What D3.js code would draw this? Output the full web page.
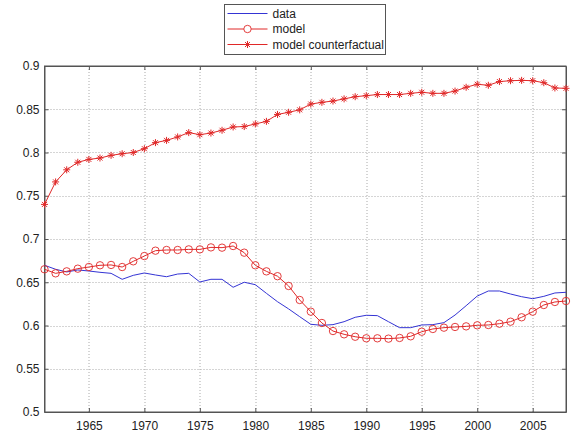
<!DOCTYPE html>
<html>
<head>
<meta charset="utf-8">
<script src="https://cdn.jsdelivr.net/npm/d3@7"></script>
<style>
  body { margin: 0; background: #fff; }
  text { font-family: "Liberation Sans", Arial, sans-serif; font-size: 12px; fill: #222; }
</style>
</head>
<body>
<div id="chart"></div>
<script>
let years = d3.range(1961, 2009)

let dataValues = [
  0.6696, 0.665, 0.6619, 0.6642, 0.663, 0.6615, 0.6603, 0.6534, 0.658, 0.6607,
  0.6584, 0.6564, 0.6595, 0.6603, 0.6503, 0.6534, 0.6534, 0.6442, 0.65, 0.6472,
  0.6372, 0.6275, 0.6192, 0.6102, 0.6014, 0.6002, 0.601, 0.6044, 0.6095, 0.6118,
  0.6114, 0.6044, 0.5975, 0.5975, 0.6006, 0.601, 0.6033, 0.6121, 0.6229, 0.634,
  0.6399, 0.6399, 0.6364, 0.6333, 0.631, 0.6337, 0.6376, 0.6384
]

let modelValues = [
  0.665, 0.6603, 0.6626, 0.6657, 0.6676, 0.6696, 0.67, 0.6676, 0.6742, 0.6803,
  0.6865, 0.6873, 0.6873, 0.688, 0.688, 0.6903, 0.69, 0.6919, 0.6842, 0.6696,
  0.6626, 0.657, 0.6457, 0.6295, 0.616, 0.6029, 0.5936, 0.5898, 0.587, 0.5852,
  0.5852, 0.5848, 0.5856, 0.5875, 0.5928, 0.596, 0.5975, 0.5983, 0.599, 0.6002,
  0.6006, 0.6021, 0.6044, 0.6095, 0.616, 0.6237, 0.6272, 0.6283
]

let counterValues = [
  0.74, 0.766, 0.78, 0.7887, 0.792, 0.7936, 0.7967, 0.7986, 0.8, 0.8044,
  0.8114, 0.814, 0.818, 0.823, 0.8206, 0.8225, 0.8257, 0.8295, 0.83, 0.833,
  0.836, 0.844, 0.8465, 0.8493, 0.856, 0.858, 0.8595, 0.862, 0.8645, 0.8657,
  0.867, 0.867, 0.867, 0.8684, 0.8696, 0.8684, 0.8684, 0.871, 0.8754, 0.8789,
  0.8777, 0.882, 0.883, 0.8834, 0.883, 0.8807, 0.8746, 0.8742
]

let xTicks = [1965, 1970, 1975, 1980, 1985, 1990, 1995, 2000, 2005]
let yTicks = [0.5, 0.55, 0.6, 0.65, 0.7, 0.75, 0.8, 0.85, 0.9]

let seriesNames = ['data', 'model', 'model counterfactual']

let red = '#e02828'
let blue = '#3434d4'

let margin = { top: 66, left: 44.5, right: 9, bottom: 24 }
let width = 575 - margin.left - margin.right
let height = 436 - margin.top - margin.bottom

let svg = d3
  .select('#chart')
  .append('svg')
  .attr('width', 575)
  .attr('height', 436)

let g = svg
  .append('g')
  .attr('transform', `translate(${margin.left}, ${margin.top})`)

let xPositionScale = d3.scaleLinear().domain([1961, 2008]).range([0, width])
let yPositionScale = d3.scaleLinear().domain([0.5, 0.9]).range([height, 0])

// dotted grid
g.selectAll('.vgrid')
  .data(xTicks)
  .enter()
  .append('line')
  .attr('x1', d => Math.round(xPositionScale(d)) + 0.5)
  .attr('x2', d => Math.round(xPositionScale(d)) + 0.5)
  .attr('y1', 0)
  .attr('y2', height)
  .attr('stroke', '#aaa')
  .attr('stroke-dasharray', '1,2')

g.selectAll('.hgrid')
  .data(yTicks)
  .enter()
  .append('line')
  .attr('x1', 0)
  .attr('x2', width)
  .attr('y1', d => Math.round(yPositionScale(d)) + 0.5)
  .attr('y2', d => Math.round(yPositionScale(d)) + 0.5)
  .attr('stroke', '#aaa')
  .attr('stroke-dasharray', '1,2')

// axes, ticks pointing inwards like matlab
let xAxis = d3.axisBottom(xPositionScale).tickValues(xTicks).tickFormat(d3.format('d')).tickSizeInner(-4).tickSizeOuter(0).tickPadding(9)
let yAxis = d3.axisLeft(yPositionScale).tickValues(yTicks).tickFormat(d => d3.format('')(d)).tickSizeInner(-4).tickSizeOuter(0).tickPadding(5)

g.append('g').attr('transform', `translate(0, ${height})`).call(xAxis)
g.append('g').call(yAxis)
g.append('g').call(d3.axisTop(xPositionScale).tickValues(xTicks).tickFormat('').tickSizeInner(-4).tickSizeOuter(0))
g.append('g').attr('transform', `translate(${width}, 0)`).call(d3.axisRight(yPositionScale).tickValues(yTicks).tickFormat('').tickSizeInner(-4).tickSizeOuter(0))

g.selectAll('.domain').attr('stroke', '#555')
g.selectAll('.tick line').attr('stroke', '#555')
g.selectAll('.tick text').attr('fill', '#222').style('font-size', '12px').style('font-family', '"Liberation Sans", Arial, sans-serif')

g.append('rect')
  .attr('width', width)
  .attr('height', height)
  .attr('fill', 'none')
  .attr('stroke', '#555')

let line = d3
  .line()
  .x(d => xPositionScale(d.year))
  .y(d => yPositionScale(d.value))

let toPoints = values => values.map((v, i) => ({ year: years[i], value: v }))

let dataPoints = toPoints(dataValues)
let modelPoints = toPoints(modelValues)
let counterPoints = toPoints(counterValues)

g.append('path').datum(dataPoints).attr('d', line).attr('fill', 'none').attr('stroke', blue).attr('stroke-width', 1)
g.append('path').datum(modelPoints).attr('d', line).attr('fill', 'none').attr('stroke', red).attr('stroke-width', 1)
g.append('path').datum(counterPoints).attr('d', line).attr('fill', 'none').attr('stroke', red).attr('stroke-width', 1)

let starPath = 'M-3.5,0H3.5M0,-3.5V3.5M-2.5,-2.5L2.5,2.5M-2.5,2.5L2.5,-2.5'

g.selectAll('.circle-marker')
  .data(modelPoints)
  .enter()
  .append('circle')
  .attr('cx', d => xPositionScale(d.year))
  .attr('cy', d => yPositionScale(d.value))
  .attr('r', 3.7)
  .attr('fill', 'none')
  .attr('stroke', red)
  .attr('stroke-width', 0.9)

g.selectAll('.star-marker')
  .data(counterPoints)
  .enter()
  .append('path')
  .attr('transform', d => `translate(${xPositionScale(d.year)}, ${yPositionScale(d.value)})`)
  .attr('d', starPath)
  .attr('fill', 'none')
  .attr('stroke', red)
  .attr('stroke-width', 1)

// legend
let legend = svg.append('g').attr('transform', 'translate(224.5, 4.5)')

legend.append('rect')
  .attr('width', 161)
  .attr('height', 50)
  .attr('fill', '#fff')
  .attr('stroke', '#555')

let rows = legend
  .selectAll('.legend-row')
  .data(seriesNames)
  .enter()
  .append('g')
  .attr('transform', (d, i) => `translate(0, ${9 + i * 15.5})`)

rows.append('line')
  .attr('x1', 3)
  .attr('x2', 43)
  .attr('stroke', (d, i) => (i === 0 ? blue : red))

rows.filter((d, i) => i === 1)
  .append('circle')
  .attr('cx', 23)
  .attr('r', 3.7)
  .attr('fill', '#fff')
  .attr('stroke', red)
  .attr('stroke-width', 0.9)

rows.filter((d, i) => i === 2)
  .append('path')
  .attr('transform', 'translate(23, 0)')
  .attr('d', starPath)
  .attr('stroke', red)

rows.append('text')
  .attr('x', 48)
  .attr('dy', '0.35em')
  .text(d => d)
</script>
</body>
</html>
